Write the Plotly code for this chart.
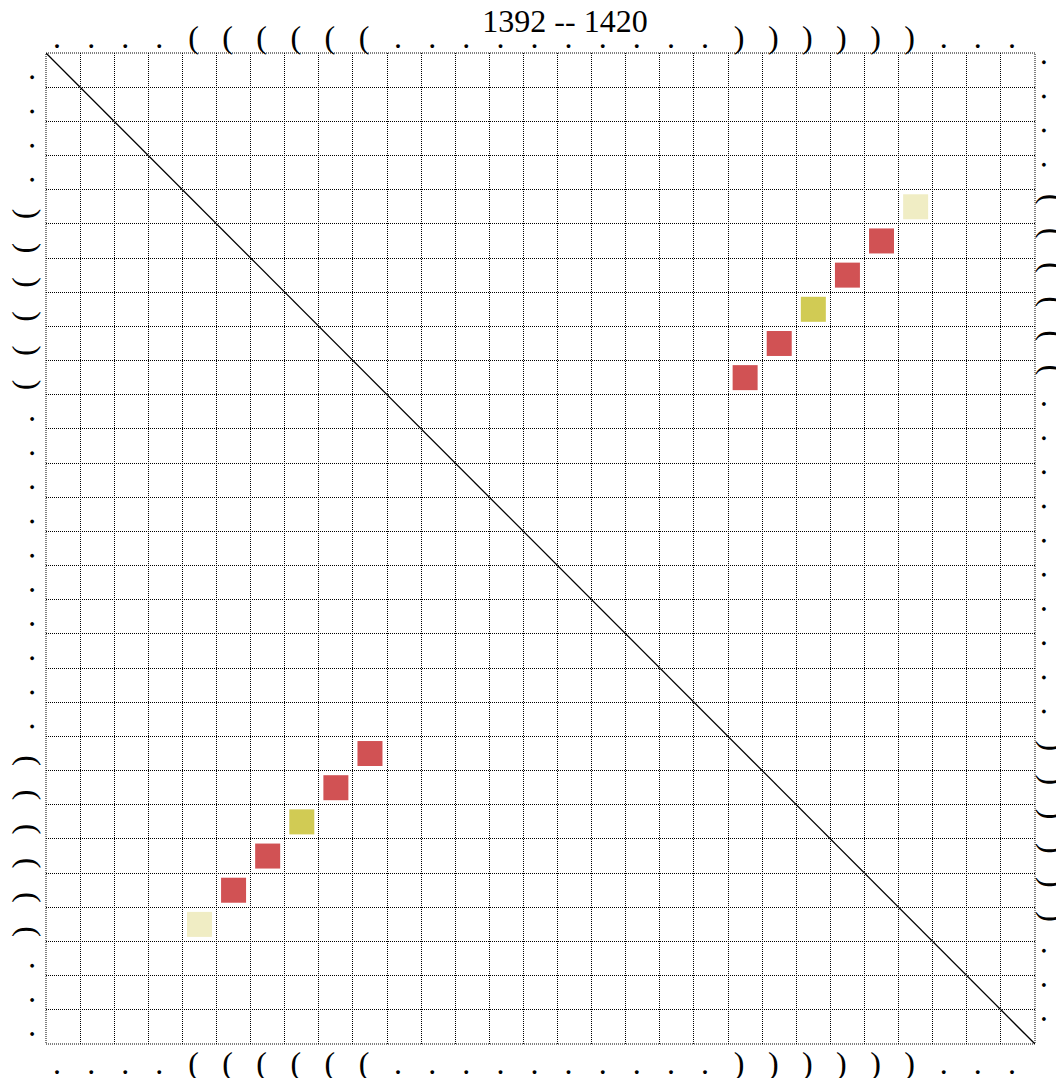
import plotly.graph_objects as go

# Sequence window and its dot-bracket structure
start_pos = 1392
end_pos = 1420
structure = list("....((((((..........))))))...")
n = len(structure)

# Base pairs (0-based indices into the window) and their support class
pair_i = [4, 5, 6, 7, 8, 9]
pair_j = [25, 24, 23, 22, 21, 20]
pair_class = [1, 3, 3, 2, 3, 3]
class_colors = {1: "#f0edc4", 2: "#d1cb54", 3: "#d15254"}

FONT = "Liberation Serif"
W, H = 1056, 1078
ML, MR, MT, MB = 46, 21, 53, 34

fig = go.Figure()

# Diagonal reference line
fig.add_trace(go.Scatter(
    x=[-0.5, n - 0.5], y=[-0.5, n - 0.5], mode="lines",
    line=dict(color="black", width=1.3), hoverinfo="skip", showlegend=False,
))

# Pair squares, both triangles
xs = pair_j + pair_i
ys = pair_i + pair_j
cols = [class_colors[c] for c in pair_class] * 2
fig.add_trace(go.Scatter(
    x=xs, y=ys, mode="markers",
    marker=dict(symbol="square", size=25, color=cols, line=dict(width=0)),
    showlegend=False,
))

# Invisible trace to activate the top and right label axes
fig.add_trace(go.Scatter(x=[0], y=[0], xaxis="x2", yaxis="y2", mode="markers",
                         marker=dict(opacity=0), hoverinfo="skip", showlegend=False))

idx = list(range(n))
grid_minor = dict(tick0=-0.5, dtick=1, showgrid=True, gridcolor="black",
                  gridwidth=1, griddash="1px,1px", ticks="")
tick_font = dict(family=FONT, size=32, color="black")
common = dict(tickmode="array", tickvals=idx, ticktext=structure, showgrid=False,
              zeroline=False, showline=False, ticks="", ticklen=0,
              tickfont=tick_font, automargin=False)

fig.update_layout(
    width=W, height=H,
    margin=dict(l=ML, r=MR, t=MT, b=MB, pad=0),
    paper_bgcolor="white", plot_bgcolor="white",
    title=dict(text=f"{start_pos} -- {end_pos}", x=565 / W, xanchor="center",
               y=1 - 21 / H, yanchor="middle",
               font=dict(family=FONT, size=32, color="black")),
    xaxis=dict(range=[-0.5, n - 0.5], tickangle=0, minor=grid_minor,
               ticklabelshift=-6, ticklabelstandoff=-3, **common),
    yaxis=dict(range=[n - 0.5, -0.5], tickangle=-90, minor=grid_minor,
               ticklabelshift=-12, ticklabelstandoff=5, **common),
    xaxis2=dict(overlaying="x", side="top", matches="x", tickangle=0,
                ticklabelshift=-6, ticklabelstandoff=-2, **common),
    yaxis2=dict(overlaying="y", side="right", matches="y", tickangle=90,
                ticklabelshift=3, **common),
    shapes=[dict(type="rect", xref="paper", yref="paper", x0=0, y0=0, x1=1, y1=1,
                 line=dict(color="black", width=1, dash="1px,1px"), layer="above")],
)

fig.write_html("out.html")
